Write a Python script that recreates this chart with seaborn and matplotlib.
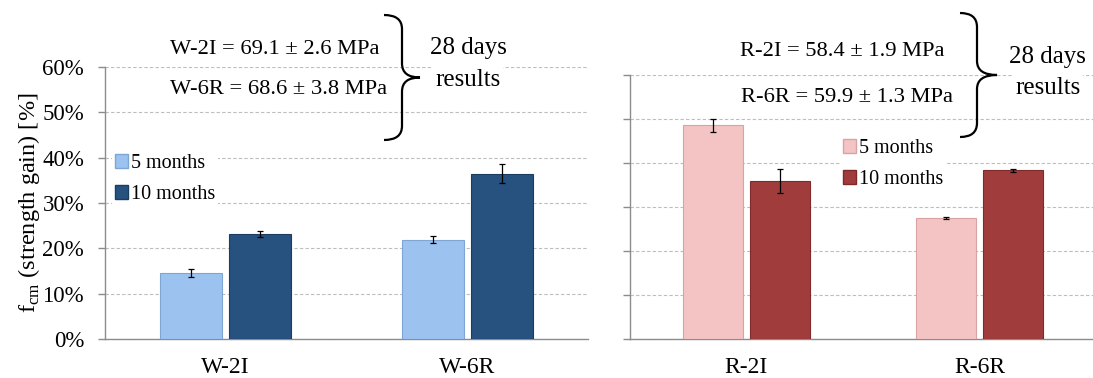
import numpy as np
import pandas as pd
import seaborn as sns
import matplotlib.pyplot as plt
from matplotlib.path import Path
from matplotlib.patches import PathPatch, Patch
from matplotlib.ticker import PercentFormatter

sns.set_theme(style='white')
plt.rcParams['font.family'] = ['Liberation Serif', 'DejaVu Serif']
plt.rcParams['mathtext.fontset'] = 'custom'
plt.rcParams['mathtext.rm'] = 'Liberation Serif'
plt.rcParams['text.color'] = 'black'
plt.rcParams['axes.labelcolor'] = 'black'
plt.rcParams['xtick.labelcolor'] = 'black'
plt.rcParams['ytick.labelcolor'] = 'black'

# data (strength gain %)
periods = ['5 months', '10 months']
w_mixes = ['W-2I', 'W-6R']
w_5m = [14.5, 21.9]
w_10m = [23.2, 36.5]
w_5m_err = [0.9, 0.75]
w_10m_err = [0.6, 2.1]
r_mixes = ['R-2I', 'R-6R']
r_5m = [48.6, 27.5]
r_10m = [35.9, 38.3]
r_5m_err = [1.5, 0.15]
r_10m_err = [2.7, 0.3]
w_notes = ['W-2I = 69.1 ± 2.6 MPa', 'W-6R = 68.6 ± 3.8 MPa']
r_notes = ['R-2I = 58.4 ± 1.9 MPa', 'R-6R = 59.9 ± 1.3 MPa']

W, H = 1093, 378
fig = plt.figure(figsize=(W / 100, H / 100), dpi=100)


def fx(x):
    return x / W


def fy(y):
    return 1 - y / H


def panel(rect, mixes, v5, v10, e5, e10, colors, edges, show_labels):
    ax = fig.add_axes(rect)
    df = pd.DataFrame({
        'mix': mixes * 2,
        'period': [periods[0]] * 2 + [periods[1]] * 2,
        'gain': v5 + v10,
    })
    sns.barplot(data=df, x='mix', y='gain', hue='period', hue_order=periods,
                palette=colors, saturation=1, width=0.57, gap=0.1, errorbar=None,
                legend=False, ax=ax, zorder=3)
    # bar edges and error bars
    errs = e5 + e10
    for i, p in enumerate(ax.patches[:4]):
        p.set_edgecolor(edges[i // 2])
        p.set_linewidth(0.8)
        ax.errorbar(p.get_x() + p.get_width() / 2, p.get_height(), yerr=errs[i],
                    color='black', lw=0.9, capsize=2.5, capthick=0.9, zorder=4)
    ax.set_ylim(0, 60)
    ax.set_xlim(-0.5, 1.5)
    ax.set_yticks(np.arange(0, 61, 10))
    ax.yaxis.set_major_formatter(PercentFormatter(decimals=0))
    ax.grid(axis='y', color='#bdbdbd', linestyle=(0, (3, 2)), lw=0.8, zorder=0)
    ax.set_axisbelow(True)
    for s in ['top', 'right']:
        ax.spines[s].set_visible(False)
    for s in ['left', 'bottom']:
        ax.spines[s].set_color('#8c8c8c')
        ax.spines[s].set_linewidth(1.0)
    ax.set_xticks([-0.5, 0.5, 1.5], minor=True)
    ax.tick_params(axis='x', which='minor', length=5, color='#8c8c8c', width=1)
    ax.tick_params(axis='x', which='major', length=0, labelsize=17, pad=13)
    ax.tick_params(axis='y', which='major', length=5, color='#8c8c8c', width=1,
                   left=True, labelsize=16.5, labelleft=show_labels, pad=10)
    ax.set_xlabel('')
    ax.set_ylabel('')
    return ax


blue = ['#9cc2f0', '#27517f']
blue_edge = ['#7fa5d4', '#1c3d61']
red = ['#f4c4c4', '#a03c3c']
red_edge = ['#d9a3a3', '#7e2a2a']

axl = panel([fx(105), fy(339), fx(588 - 105), (339 - 67) / H], w_mixes,
            w_5m, w_10m, w_5m_err, w_10m_err, blue, blue_edge, True)
axl.set_ylabel(r'f$_{\mathrm{cm}}$ (strength gain) [%]', fontsize=17.5, labelpad=0)

axr = panel([fx(630), fy(339), fx(1096 - 630), (339 - 75) / H], r_mixes,
            r_5m, r_10m, r_5m_err, r_10m_err, red, red_edge, False)

# legends
for cols, edg, xy in [(blue, blue_edge, (112, 151)), (red, red_edge, (840, 136))]:
    handles = [Patch(facecolor=cols[i], edgecolor=edg[i], label=periods[i]) for i in range(2)]
    fig.legend(handles=handles, loc='upper left', bbox_to_anchor=(fx(xy[0]), fy(xy[1])),
               frameon=True, facecolor='white', edgecolor='none', framealpha=1,
               fontsize=14.5, handlelength=0.65, handleheight=0.65, handletextpad=0.15,
               labelspacing=0.6, borderpad=0.15, borderaxespad=0)


def brace(x0, xv, xt, ytop, ybot):
    ym = (ytop + ybot) / 2
    r = 14
    pts = [(x0, ytop), (xv, ytop), (xv, ytop + r), (xv, ytop + r),
           (xv, ym - r), (xv, ym), (xt, ym),
           (xv, ym), (xv, ym + r), (xv, ym + r),
           (xv, ybot - r), (xv, ybot), (x0, ybot)]
    codes = [Path.MOVETO, Path.CURVE3, Path.CURVE3, Path.LINETO,
             Path.LINETO, Path.CURVE3, Path.CURVE3,
             Path.CURVE3, Path.CURVE3, Path.LINETO,
             Path.LINETO, Path.CURVE3, Path.CURVE3]
    verts = [(fx(x), fy(y)) for x, y in pts]
    fig.add_artist(PathPatch(Path(verts, codes), fill=False, lw=1.6, color='black',
                             transform=fig.transFigure))


box = dict(facecolor='white', edgecolor='none', pad=2)
fs_note = 16.2
fig.text(fx(275), fy(50), w_notes[0], ha='center', va='center', fontsize=fs_note, bbox=box)
fig.text(fx(279), fy(90), w_notes[1], ha='center', va='center', fontsize=fs_note, bbox=box)
brace(384, 402, 420, 15, 140)
fig.text(fx(468), fy(48), '28 days', ha='center', va='center', fontsize=18, bbox=box)
fig.text(fx(468), fy(80), 'results', ha='center', va='center', fontsize=18, bbox=box)

fig.text(fx(842), fy(52), r_notes[0], ha='center', va='center', fontsize=fs_note, bbox=box)
fig.text(fx(847), fy(97), r_notes[1], ha='center', va='center', fontsize=fs_note, bbox=box)
brace(960, 977, 997, 13, 137)
fig.text(fx(1009), fy(57), '28 days', ha='left', va='center', fontsize=18, bbox=box)
fig.text(fx(1015), fy(88), 'results', ha='left', va='center', fontsize=18, bbox=box)

fig.savefig('out.png', dpi=100)
